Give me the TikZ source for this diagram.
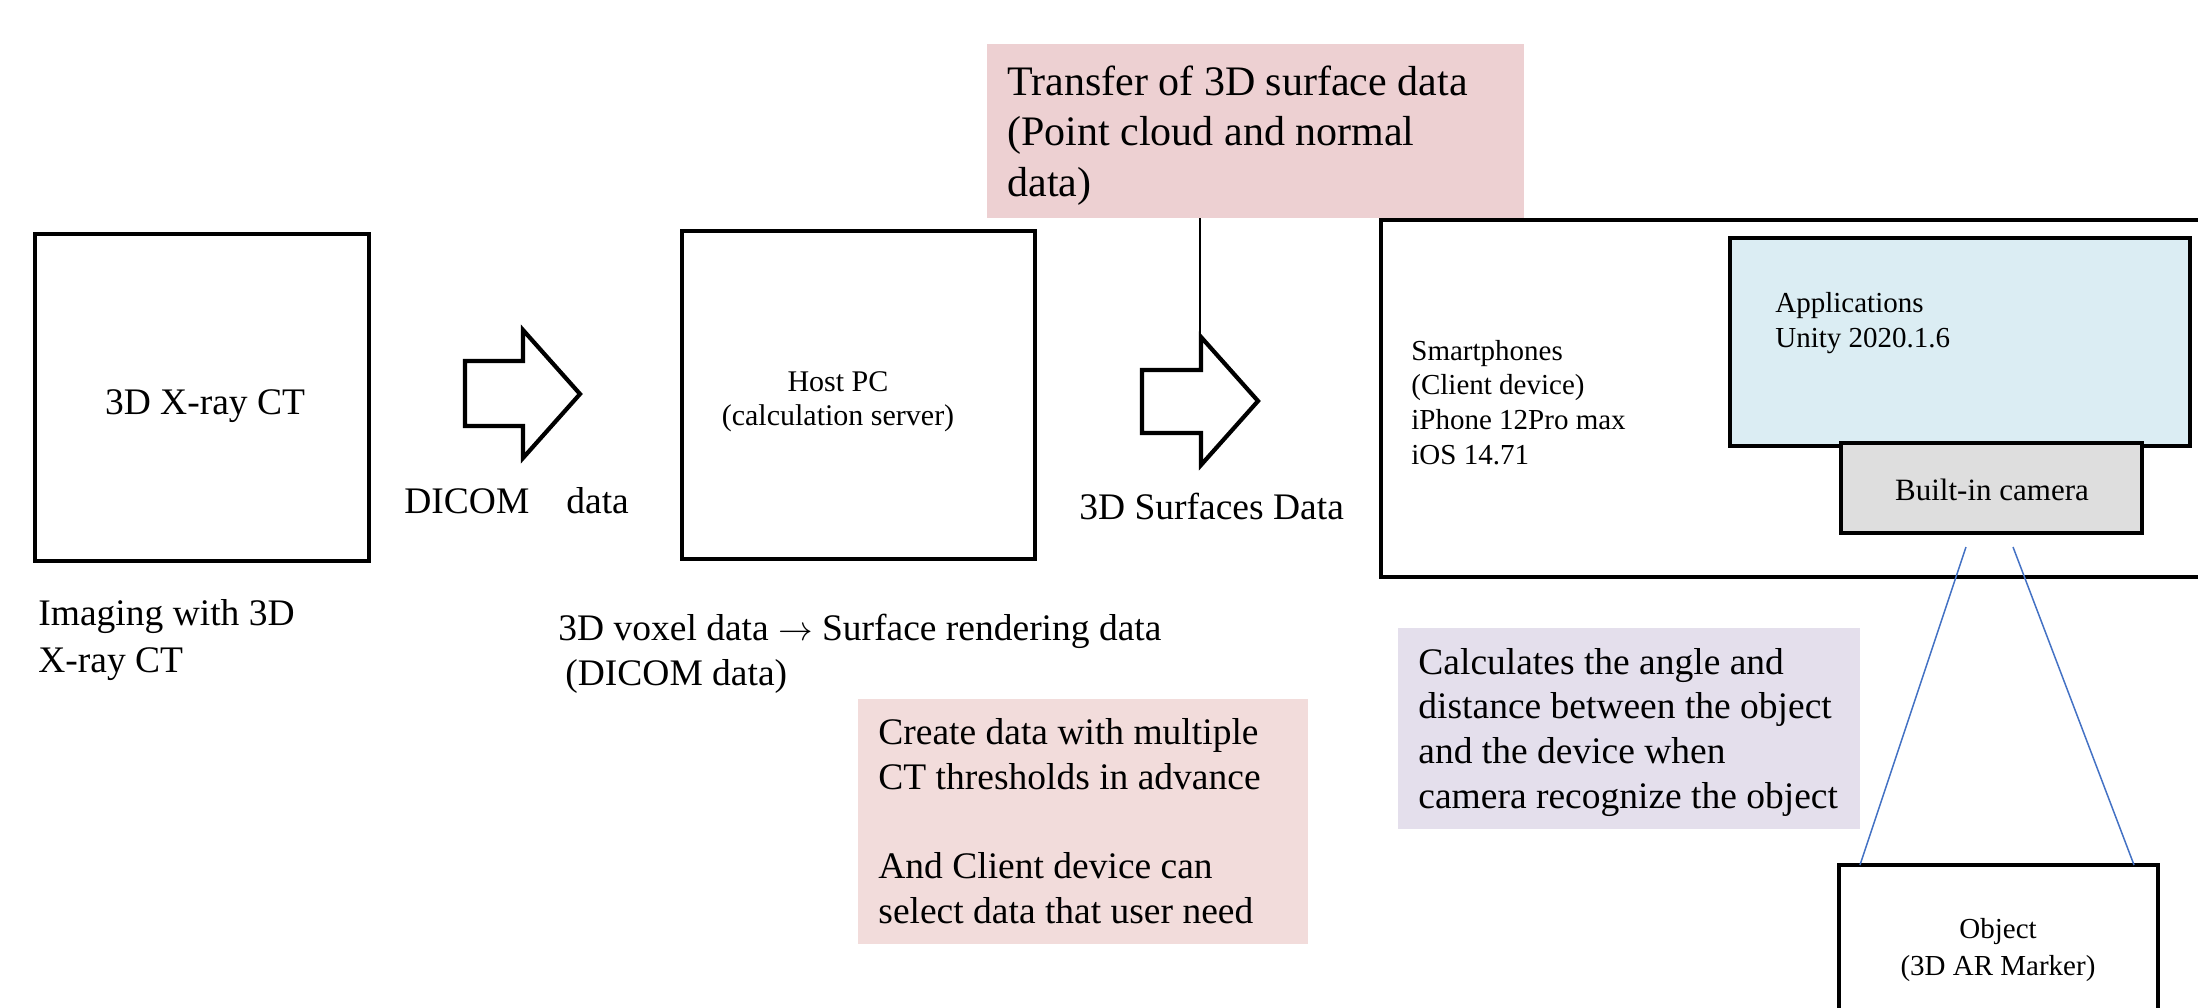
\documentclass[tikz,border=0pt]{standalone}
\usepackage{fontspec}
\setmainfont{Liberation Serif}
\usetikzlibrary{fit}
\definecolor{pinkA}{RGB}{237,208,210}
\definecolor{pinkB}{RGB}{242,220,219}
\definecolor{lav}{RGB}{228,223,236}
\definecolor{appblue}{RGB}{219,237,243}
\definecolor{camgray}{RGB}{222,222,222}
\definecolor{lineblue}{RGB}{68,114,196}
\begin{document}
\begin{tikzpicture}[x=0.5pt,y=-0.5pt,
  box/.style={draw=black, line width=2.2pt, inner sep=0pt, outer sep=0pt},
  fillbox/.style={inner sep=0pt, outer sep=0pt, draw=none},
  bigtxt/.style={font=\fontsize{18.75pt}{22.3pt}\selectfont, inner sep=0pt, align=left},
  trtxt/.style={font=\fontsize{21pt}{25.2pt}\selectfont, inner sep=0pt, align=left},
  smalltxt/.style={font=\fontsize{14.5pt}{17.3pt}\selectfont, inner sep=0pt, align=left},
  blockarrow/.style={draw=black, line width=2.1pt, fill=white, line join=miter},
  thinline/.style={draw=black, line width=0.75pt},
  viewline/.style={draw=lineblue, line width=0.75pt}
  ]
\useasboundingbox (0,0) rectangle (2198,1007);

% boxes
\node[box, fit={(35,234) (369,561)}] (ct) {};
\node[box, fit={(682,231) (1035,559)}] (host) {};
\node[box, fit={(1381,220) (2260,577)}] (phone) {};
\node[box, fill=appblue, fit={(1730,238) (2190,446)}] (app) {};
\node[box, fill=camgray, fit={(1841,443) (2142,533)}] (cam) {};
\node[box, fit={(1839,865) (2158,1060)}] (obj) {};

% coloured note boxes
\node[fillbox, fill=pinkA, fit={(987,44) (1524,218)}] (transfer) {};
\node[fillbox, fill=pinkB, fit={(858,699) (1308,944)}] (thresh) {};
\node[fillbox, fill=lav, fit={(1398,628) (1860,829)}] (calc) {};

% block arrows
\draw[blockarrow] (465,361) -- (523,361) -- (523,330) -- (580,394) -- (523,458) -- (523,426) -- (465,426) -- cycle;
\draw[blockarrow] (1142,370) -- (1201,370) -- (1201,337) -- (1258,401) -- (1201,465) -- (1201,433) -- (1142,433) -- cycle;

% connector from transfer note to arrow
\coordinate (a2top) at (1200,337);
\draw[thinline] (transfer.south -| a2top) -- (a2top);

% camera view lines
\coordinate (v1) at (1966,547);
\coordinate (v2) at (2013,547);
\coordinate (e1) at (1860,865);
\coordinate (e2) at (2134,865);
\draw[viewline] (v1) -- (e1);
\draw[viewline] (v2) -- (e2);

% texts (multi-line nodes: base anchor = last line)
\node[bigtxt, anchor=base] (ctT) at (205,414) {3D X-ray CT};
\node[bigtxt, anchor=base west] (dicomT) at (404,513) {DICOM\hspace{18.5pt}data};
\node[bigtxt, font=\fontsize{18.75pt}{23.5pt}\selectfont, anchor=base west] (imgT) at (38,672) {Imaging with 3D\\X-ray CT};
\node[smalltxt, font=\fontsize{15pt}{17pt}\selectfont, align=center, anchor=base] (hostT) at (838,425) {Host PC\\(calculation server)};
\node[bigtxt, anchor=base west] (voxT) at (558,685) {3D voxel data $\rightarrow$ Surface rendering data\\\hspace*{3.5pt}(DICOM data)};
\node[trtxt, anchor=base west] (trT) at (1007,196) {Transfer of 3D surface data\\(Point cloud and normal\\data)};
\node[bigtxt, anchor=base west] (surfT) at (1079,519) {3D Surfaces Data};
\node[smalltxt, anchor=base west] (phoneT) at (1411,464) {Smartphones\\(Client device)\\iPhone 12Pro max\\iOS 14.71};
\node[smalltxt, anchor=base west] (appT) at (1775,347) {Applications\\Unity 2020.1.6};
\node[smalltxt, font=\fontsize{15.5pt}{18pt}\selectfont, anchor=base] (camT) at (1992,500) {Built-in camera};
\node[smalltxt, font=\fontsize{14.5pt}{18.5pt}\selectfont, align=center, anchor=base] (objT) at (1998,975) {Object\\(3D AR Marker)};
\node[bigtxt, anchor=base west] (calcT) at (1418,808) {Calculates the angle and\\distance between the object\\and the device when\\camera recognize the object};
\node[bigtxt, anchor=base west] (threshT) at (878,923) {Create data with multiple\\CT thresholds in advance\\[22.3pt]And Client device can\\select data that user need};
\end{tikzpicture}
\end{document}
